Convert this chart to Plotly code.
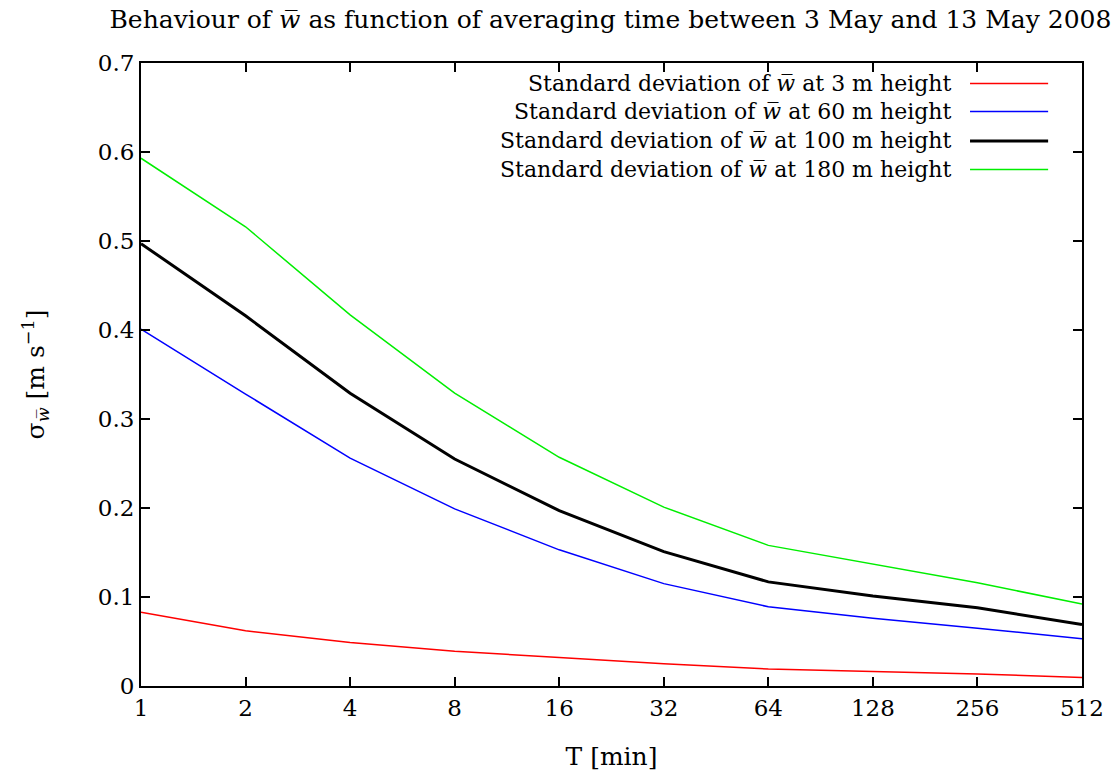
import plotly.graph_objects as go

T = [1, 2, 4, 8, 16, 32, 64, 128, 256, 512]
tick_labels = ["1", "2", "4", "8", "16", "32", "64", "128", "256", "512"]
sd_3m = [0.083, 0.062, 0.049, 0.039, 0.032, 0.025, 0.019, 0.016, 0.0135, 0.0095]
sd_60m = [0.401, 0.328, 0.256, 0.199, 0.153, 0.115, 0.089, 0.076, 0.065, 0.053]
sd_100m = [0.497, 0.416, 0.329, 0.255, 0.197, 0.151, 0.117, 0.101, 0.088, 0.069]
sd_180m = [0.593, 0.516, 0.417, 0.329, 0.257, 0.201, 0.158, 0.137, 0.116, 0.092]

W = "<i>w̅</i>"
names = [f"Standard deviation of {W} at 3 m height",
         f"Standard deviation of {W} at 60 m height",
         f"Standard deviation of {W} at 100 m height",
         f"Standard deviation of {W} at 180 m height"]
series = [sd_3m, sd_60m, sd_100m, sd_180m]
colors = ["#ff0000", "#0000ff", "#000000", "#00ee00"]
widths = [1.5, 1.5, 3, 1.5]

FONT = "DejaVu Serif"
FS = 22
fig = go.Figure()
for name, ys, c, w in zip(names, series, colors, widths):
    fig.add_trace(go.Scatter(x=T, y=ys, mode="lines", name=name,
                             line=dict(color=c, width=w), showlegend=False))

# custom legend (text right-aligned, sample line to the right)
leg_y = [0.967, 0.922, 0.875, 0.829]
for name, c, w, yy in zip(names, colors, widths, leg_y):
    fig.add_annotation(xref="paper", yref="paper", x=0.863, y=yy, text=name,
                       showarrow=False, xanchor="right", yanchor="middle",
                       font=dict(family=FONT, size=FS, color="black"))
    fig.add_shape(type="line", xref="paper", yref="paper", x0=0.881, x1=0.964,
                  y0=yy, y1=yy, line=dict(color=c, width=w))

axis_common = dict(showline=True, linecolor="black", linewidth=2, mirror="ticks",
                   ticks="inside", ticklen=9, tickwidth=1.5, tickcolor="black",
                   showgrid=False, zeroline=False, automargin=False,
                   tickfont=dict(family=FONT, size=23, color="black"))
fig.update_xaxes(type="log", range=[0, 2.70927], tickvals=T, ticktext=tick_labels,
                 title=dict(text="T [min]", font=dict(family=FONT, size=25, color="black"),
                            standoff=28), **axis_common)
fig.update_yaxes(range=[0, 0.7], tickvals=[0, 0.1, 0.2, 0.3, 0.4, 0.5, 0.6, 0.7],
                 ticktext=["0", "0.1", "0.2", "0.3", "0.4", "0.5", "0.6", "0.7"],
                 title=dict(text="σ<sub><i>w̅</i></sub> [m s<sup>−1</sup>]",
                            font=dict(family=FONT, size=25, color="black"), standoff=46),
                 **axis_common)
fig.update_layout(
    width=1117, height=775,
    margin=dict(l=141, r=35, t=63, b=89, autoexpand=False),
    paper_bgcolor="white", plot_bgcolor="white",
    title=dict(text=f"Behaviour of {W} as function of averaging time between 3 May and 13 May 2008",
               x=0.5465, xanchor="center", y=0.975, yanchor="middle",
               font=dict(family=FONT, size=25, color="black")),
)
fig.write_html("out.html", post_script="document.body.style.margin='0';",
               config={"displayModeBar": False})
